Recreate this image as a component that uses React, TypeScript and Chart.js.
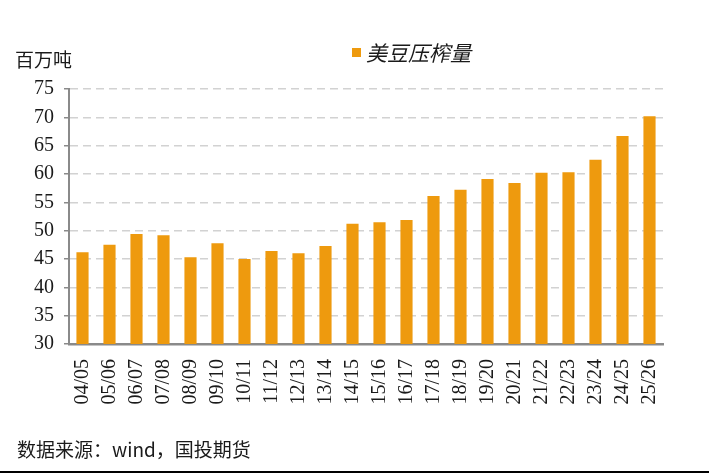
import React, { useEffect, useRef } from "react";
import { Chart, registerables } from "chart.js";

Chart.register(...registerables);

const categories = [
  "04/05", "05/06", "06/07", "07/08", "08/09", "09/10", "10/11", "11/12",
  "12/13", "13/14", "14/15", "15/16", "16/17", "17/18", "18/19", "19/20",
  "20/21", "21/22", "22/23", "23/24", "24/25", "25/26",
];
const crushValues = [
  46.2, 47.5, 49.4, 49.2, 45.3, 47.8, 45.0, 46.4, 46.0, 47.3, 51.2, 51.5,
  51.9, 56.1, 57.2, 59.1, 58.4, 60.2, 60.3, 62.5, 66.7, 70.2,
];
const seriesName = "美豆压榨量";
const unitLabel = "百万吨";
const sourceText = "数据来源：wind，国投期货";
const yMin = 30;
const yMax = 75;
const yStep = 5;

const BAR_COLOR = "#EE9A0E";
const AXIS_COLOR = "#8A8A8A";
const GRID_COLOR = "#D2D2D2";
const TEXT_COLOR = "#1A1A1A";
const CJK = '"Noto Sans CJK SC", "Noto Sans", sans-serif';
const SERIF = '"Liberation Serif", "Times New Roman", serif';

const textPlugin = {
  id: "customTexts",
  afterDraw(chart: any) {
    const ctx = chart.ctx as CanvasRenderingContext2D;
    ctx.save();
    ctx.fillStyle = TEXT_COLOR;
    ctx.textBaseline = "middle";
    ctx.textAlign = "left";
    ctx.font = `19px ${CJK}`;
    ctx.fillText(unitLabel, 15, 60);
    const ds = chart.data.datasets[0];
    ctx.fillStyle = BAR_COLOR;
    ctx.fillRect(352, 48, 9, 9);
    ctx.fillStyle = TEXT_COLOR;
    ctx.font = `italic 21px ${CJK}`;
    ctx.fillText(ds.label, 366, 53);
    ctx.font = `19px ${CJK}`;
    ctx.fillText(sourceText, 17, 450);
    ctx.fillStyle = "#000";
    ctx.fillRect(0, 471, chart.width, 2);
    ctx.restore();
  },
};

export default function App() {
  const canvasRef = useRef<HTMLCanvasElement | null>(null);

  useEffect(() => {
    const canvas = canvasRef.current;
    if (!canvas) return;
    const chart = new Chart(canvas, {
      type: "bar",
      data: {
        labels: categories,
        datasets: [
          {
            label: seriesName,
            data: crushValues,
            backgroundColor: BAR_COLOR,
            borderWidth: 0,
            barPercentage: 0.45,
            categoryPercentage: 1,
          },
        ],
      },
      options: {
        responsive: false,
        animation: false,
        devicePixelRatio: 1,
        layout: { padding: { top: 89, right: 46, bottom: 0, left: 0 } },
        plugins: {
          legend: { display: false },
          tooltip: { enabled: false },
          title: { display: false },
        },
        scales: {
          x: {
            grid: { display: false, drawTicks: false },
            border: { display: true, color: AXIS_COLOR, width: 2.5 },
            ticks: {
              color: TEXT_COLOR,
              font: { family: SERIF, size: 20 },
              minRotation: 90,
              maxRotation: 90,
              autoSkip: false,
              padding: 15,
            },
            afterFit: (scale: any) => {
              scale.height = 129;
            },
          },
          y: {
            min: yMin,
            max: yMax,
            ticks: {
              stepSize: yStep,
              color: TEXT_COLOR,
              font: { family: SERIF, size: 20 },
              padding: 10,
            },
            grid: {
              color: GRID_COLOR,
              lineWidth: 1.5,
              drawTicks: true,
              tickLength: 5,
              tickColor: AXIS_COLOR,
              tickWidth: 1.5,
              tickBorderDash: [],
            },
            border: { display: true, color: AXIS_COLOR, width: 2, dash: [8, 5] },
            afterFit: (scale: any) => {
              scale.width = 69;
            },
          },
        },
      },
      plugins: [textPlugin],
    });
    return () => chart.destroy();
  }, []);

  return (
    <div
      style={{
        position: "absolute",
        left: 0,
        top: 0,
        width: 709,
        height: 473,
        background: "#fff",
      }}
    >
      <canvas ref={canvasRef} width={709} height={473} style={{ display: "block" }} />
    </div>
  );
}
